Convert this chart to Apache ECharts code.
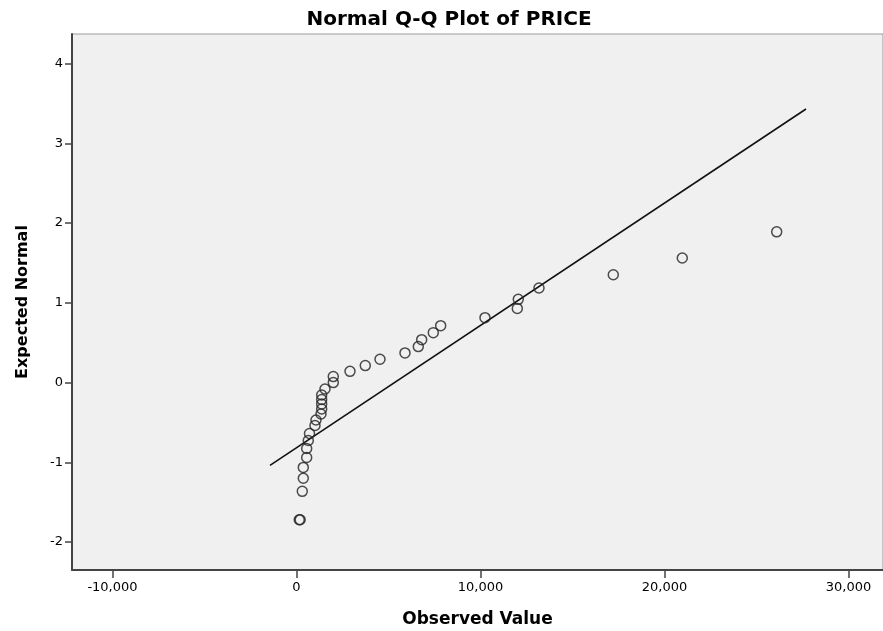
<!DOCTYPE html>
<html>
<head>
<meta charset="utf-8">
<script src="https://cdn.jsdelivr.net/npm/echarts@6/dist/echarts.min.js"></script>
<style>
html,body{margin:0;padding:0;background:#fff;}
#chart{width:883px;height:631px;}
</style>
</head>
<body>
<div id="chart"></div>
<script>
// Observed values (PRICE) and expected normal values
const observed = [150, 200, 315, 370, 370, 554, 554, 641, 707, 1005, 1060, 1332, 1370, 1370, 1370, 1370, 1549, 2000, 2000, 2908, 3739, 4538, 5897, 6620, 6804, 7435, 7837, 10245, 12000, 12054, 13179, 17217, 20967, 26098];
const expected = [-1.72, -1.72, -1.364, -1.20, -1.064, -0.939, -0.826, -0.726, -0.638, -0.538, -0.469, -0.394, -0.332, -0.269, -0.213, -0.156, -0.081, 0.0, 0.075, 0.141, 0.213, 0.292, 0.372, 0.451, 0.538, 0.626, 0.713, 0.814, 0.93, 1.043, 1.185, 1.352, 1.561, 1.89];
// Reference line endpoints
const lineX = [-1440, 27690];
const lineY = [-1.039, 3.43];
// Tick values
const xTicks = [-10000, 0, 10000, 20000, 30000];
const yTicks = [-2, -1, 0, 1, 2, 3, 4];

const pts = observed.map((v, i) => [v, expected[i]]);
const linePts = lineX.map((v, i) => [v, lineY[i]]);

const FONT = 'DejaVu Sans, Verdana, sans-serif';
const chart = echarts.init(document.getElementById('chart'));
chart.setOption({
  animation: false,
  backgroundColor: '#ffffff',
  title: {
    text: 'Normal Q-Q Plot of PRICE',
    left: 444,
    textAlign: 'center',
    top: 5,
    textStyle: {fontFamily: FONT, fontWeight: 'bold', fontSize: 20, color: '#000'}
  },
  grid: {left: 72, right: 0, top: 34, bottom: 61, outerBoundsMode: 'none', containLabel: false, show: true, backgroundColor: '#f0f0f0', borderColor: '#9a9a9a', borderWidth: 1},
  xAxis: {
    type: 'value',
    min: -12200,
    max: 31875,
    name: 'Observed Value',
    nameLocation: 'middle',
    nameGap: 41,
    nameTextStyle: {fontFamily: FONT, fontWeight: 'bold', fontSize: 17, color: '#000'},
    splitLine: {show: false},
    axisLine: {onZero: false, lineStyle: {color: '#444', width: 2}},
    axisTick: {show: true, customValues: xTicks, length: 8, lineStyle: {color: '#444', width: 1.5}},
    axisLabel: {
      customValues: xTicks,
      margin: 11,
      fontFamily: FONT, fontSize: 13, color: '#000',
      formatter: v => v.toLocaleString('en-US')
    }
  },
  yAxis: {
    type: 'value',
    min: -2.35,
    max: 4.37,
    name: 'Expected Normal',
    nameLocation: 'middle',
    nameGap: 41,
    nameRotate: 90,
    nameTextStyle: {fontFamily: FONT, fontWeight: 'bold', fontSize: 16, color: '#000'},
    splitLine: {show: false},
    axisLine: {onZero: false, lineStyle: {color: '#444', width: 2}},
    axisTick: {show: true, customValues: yTicks, length: 7, lineStyle: {color: '#444', width: 1.5}},
    axisLabel: {
      customValues: yTicks,
      margin: 9,
      fontFamily: FONT, fontSize: 13, color: '#000'
    }
  },
  series: [
    {
      type: 'line',
      data: linePts,
      symbol: 'none',
      lineStyle: {color: '#111', width: 1.6},
      silent: true,
      z: 2
    },
    {
      type: 'scatter',
      data: pts,
      symbol: 'circle',
      symbolSize: 10,
      itemStyle: {color: 'rgba(0,0,0,0)', borderColor: '#222', borderWidth: 1.5},
      z: 3
    }
  ]
});
</script>
</body>
</html>
